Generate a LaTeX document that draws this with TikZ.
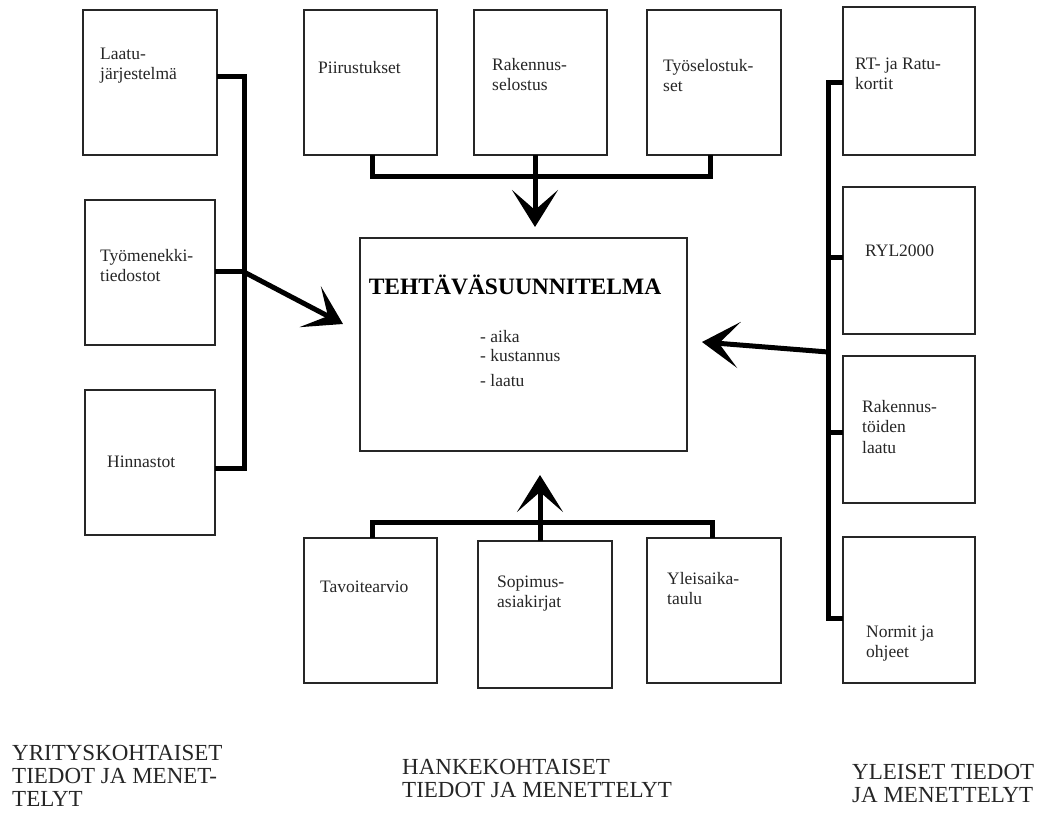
\documentclass[tikz,border=0pt]{standalone}
\usepackage{fontspec}
\setmainfont{Liberation Serif}
\usetikzlibrary{arrows.meta}

% frame box given by left, top, right, bottom (pixel-like units)
\newcommand{\kehys}[5]{%
  \node[box, minimum width={(#4-#2)*1pt}, minimum height={(#5-#3)*1pt}]
    (#1) at ({(#2+#4)/2},{(#3+#5)/2}) {};}

\begin{document}
\begin{tikzpicture}[x=1pt, y=-1pt,
  box/.style={draw=black!85, line width=2.6pt, inner sep=0pt, outer sep=0pt, fill=white},
  % multi-line labels are placed by the baseline of their last line
  lbl/.style={anchor=base west, align=left, inner sep=0pt, text=black!85,
    font=\fontsize{17.5}{20}\selectfont},
  group/.style={anchor=base west, align=left, inner sep=0pt, text=black!85,
    font=\fontsize{23}{23}\selectfont},
  bus/.style={line width=5pt, line join=miter, line cap=butt},
  feed/.style={line width=5pt,
    -{Stealth[length=37pt, width=46pt, inset=20pt]}},
]
\useasboundingbox (0,0) rectangle (1039,818);

% --- boxes ---
\kehys{laatu}{83}{10}{217}{155}
\kehys{menekki}{85}{200}{215}{345}
\kehys{hinnastot}{85}{390}{215}{535}
\kehys{piirustukset}{304}{10}{437}{155}
\kehys{selostus}{474}{10}{607}{155}
\kehys{tyoselostukset}{647}{10}{781}{155}
\kehys{plan}{360}{238}{687}{451}
\kehys{tavoite}{304}{538}{437}{683}
\kehys{sopimus}{478}{541}{612}{688}
\kehys{aikataulu}{647}{538}{781}{683}
\kehys{rtkortit}{843}{7}{975}{155}
\kehys{ryl}{843}{187}{975}{334}
\kehys{laatukriteerit}{843}{356}{975}{503}
\kehys{normit}{843}{537}{975}{683}

% --- box texts ---
\node[lbl] (t-laatu) at (100,80) {Laatu-\\järjestelmä};
\node[lbl] (t-menekki) at (100,282) {Työmenekki-\\tiedostot};
\node[lbl] (t-hinnastot) at (107,467) {Hinnastot};
\node[lbl] (t-piir) at (318,74) {Piirustukset};
\node[lbl] (t-selostus) at (492,91) {Rakennus-\\selostus};
\node[lbl] (t-tyosel) at (663,92) {Työselostuk-\\set};
\node[lbl] (t-rt) at (855,90) {RT- ja Ratu-\\kortit};
\node[lbl] (t-ryl) at (865,257) {RYL2000};
\node[lbl] (t-laatukr) at (862,453) {Rakennus-\\töiden\\[1pt]laatu};
\node[lbl] (t-normit) at (866,657) {Normit ja\\ohjeet};
\node[lbl] (t-tavoite) at (320,592) {Tavoitearvio};
\node[lbl] (t-sopimus) at (497,607) {Sopimus-\\asiakirjat};
\node[lbl] (t-aikataulu) at (667,604) {Yleisaika-\\taulu};

\node[anchor=base, inner sep=0pt, font=\bfseries\fontsize{23.5}{26}\selectfont]
  (t-plan) at (515,295) {TEHTÄVÄSUUNNITELMA};
\node[lbl] (t-aika) at (480,342) {- aika};
\node[lbl] (t-kust) at (480,362) {- kustannus};
\node[lbl] (t-laatu2) at (480,386) {- laatu};

% --- group captions ---
\node[group] (g-yritys) at (12,806) {YRITYSKOHTAISET\\TIEDOT JA MENET-\\TELYT};
\node[group] (g-hanke) at (402,797) {HANKEKOHTAISET\\TIEDOT JA MENETTELYT};
\node[group] (g-yleiset) at (852,802) {YLEISET TIEDOT\\JA MENETTELYT};

% --- left bus ---
\coordinate (lb1) at (244,77);
\coordinate (lb2) at (244,272);
\coordinate (lb3) at (244,468);
\draw[bus] (laatu.east |- lb1) -- (lb1) -- (lb3) -- (hinnastot.east |- lb3);
\draw[bus] (menekki.east |- lb2) -- (lb2);
\coordinate (lt) at (343,324);
\draw[feed] (lb2) -- (lt);

% --- top bus ---
\coordinate (tb1) at (372,177);
\coordinate (tb2) at (535,177);
\coordinate (tb3) at (710,177);
\draw[bus] (piirustukset.south -| tb1) -- (tb1) -- (tb3) -- (tyoselostukset.south -| tb3);
\draw[bus] (selostus.south -| tb2) -- (tb2);
\coordinate (tt) at (535,227);
\draw[feed] (tb2) -- (tt);

% --- bottom bus ---
\coordinate (bb1) at (372,522);
\coordinate (bb2) at (540,522);
\coordinate (bb3) at (712,522);
\draw[bus] (tavoite.north -| bb1) -- (bb1) -- (bb3) -- (aikataulu.north -| bb3);
\draw[bus] (sopimus.north -| bb2) -- (bb2);
\coordinate (bt) at (540,475);
\draw[feed] (bb2) -- (bt);

% --- right bus ---
\coordinate (rb1) at (828,83);
\coordinate (rb2) at (828,258);
\coordinate (rb3) at (828,432);
\coordinate (rb4) at (828,618);
\coordinate (rba) at (828,352);
\draw[bus] (rtkortit.west |- rb1) -- (rb1) -- (rb4) -- (normit.west |- rb4);
\draw[bus] (ryl.west |- rb2) -- (rb2);
\draw[bus] (laatukriteerit.west |- rb3) -- (rb3);
\coordinate (rt) at (702,342);
\draw[feed] (rba) -- (rt);
\end{tikzpicture}
\end{document}
